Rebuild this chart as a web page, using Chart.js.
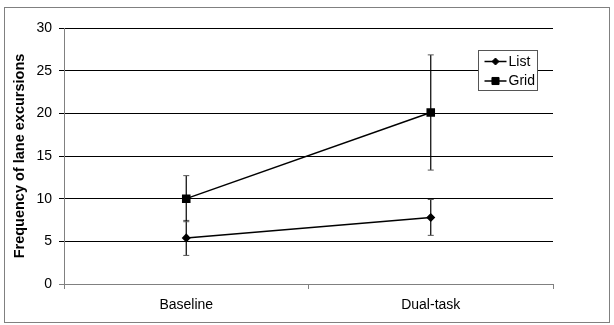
<!DOCTYPE html>
<html>
<head>
<meta charset="utf-8">
<script src="https://cdn.jsdelivr.net/npm/chart.js@4/dist/chart.umd.min.js"></script>
<style>
    html, body { margin: 0; padding: 0; background: #fff; }
    #wrap { position: relative; width: 614px; height: 325px; }
</style>
</head>
<body>
<div id="wrap"><canvas id="laneChart" width="614" height="325"></canvas></div>
<script>
const categories = ['Baseline', 'Dual-task'];
const listValues = [5.4, 7.8];
const listErrors = [2.05, 2.1];
const gridValues = [10.0, 20.1];
const gridErrors = [2.7, 6.75];
const yTickValues = [0, 5, 10, 15, 20, 25, 30];
const seriesNames = ['List', 'Grid'];

const FONT = 'Liberation Sans, Arial, sans-serif';
const AXIS_GREY = '#808080';

// error bars, drawn from the scales
const errorBars = {
    id: 'errorBars',
    beforeDatasetsDraw(chart) {
        const ctx = chart.ctx;
        const x = chart.scales.x, y = chart.scales.y;
        const errs = [listErrors, gridErrors];
        ctx.save();
        chart.data.datasets.forEach(function (ds, i) {
            ds.data.forEach(function (v, j) {
                const px = x.getPixelForValue(j);
                const top = y.getPixelForValue(v + errs[i][j]);
                const bot = y.getPixelForValue(v - errs[i][j]);
                ctx.strokeStyle = '#000';
                ctx.lineWidth = 1.2;
                ctx.beginPath();
                ctx.moveTo(px, top);
                ctx.lineTo(px, bot);
                ctx.stroke();
                ctx.strokeStyle = '#555';
                ctx.lineWidth = 1;
                ctx.beginPath();
                ctx.moveTo(px - 3, top); ctx.lineTo(px + 3, top);
                ctx.moveTo(px - 3, bot); ctx.lineTo(px + 3, bot);
                ctx.stroke();
            });
        });
        ctx.restore();
    }
};

// legend box, y title and outer frame
const extras = {
    id: 'extras',
    afterDraw(chart) {
        const ctx = chart.ctx;
        const area = chart.chartArea;
        ctx.save();

        // y axis title
        ctx.fillStyle = '#000';
        ctx.font = 'bold 14.5px ' + FONT;
        ctx.textAlign = 'center';
        ctx.textBaseline = 'middle';
        ctx.translate(20, (area.top + area.bottom) / 2);
        ctx.rotate(-Math.PI / 2);
        ctx.fillText('Frequency of lane excursions', 0, 0);
        ctx.setTransform(1, 0, 0, 1, 0, 0);

        // legend
        const lx = 478.5, ly = 50.5, lw = 59, lh = 40;
        ctx.fillStyle = '#fff';
        ctx.fillRect(lx, ly, lw, lh);
        ctx.strokeStyle = '#555';
        ctx.lineWidth = 1;
        ctx.strokeRect(lx, ly, lw, lh);
        chart.data.datasets.forEach(function (ds, i) {
            const cy = ly + 11 + i * 19.5;
            ctx.strokeStyle = '#000';
            ctx.fillStyle = '#000';
            ctx.lineWidth = 1.5;
            ctx.beginPath();
            ctx.moveTo(lx + 6, cy);
            ctx.lineTo(lx + 28, cy);
            ctx.stroke();
            ctx.lineWidth = 1;
            Chart.helpers.drawPoint(ctx, {
                pointStyle: ds.pointStyle,
                radius: ds.pointRadius,
                borderWidth: 1
            }, lx + 17, cy);
            ctx.font = '14px ' + FONT;
            ctx.textAlign = 'left';
            ctx.textBaseline = 'middle';
            ctx.fillText(seriesNames[i], lx + 30, cy + 0.5);
        });

        // outer frame
        ctx.strokeStyle = AXIS_GREY;
        ctx.lineWidth = 1;
        ctx.strokeRect(4.5, 7.5, 605, 315);
        ctx.restore();
    }
};

new Chart(document.getElementById('laneChart'), {
    type: 'line',
    data: {
        labels: categories,
        datasets: [{
            label: seriesNames[0],
            data: listValues,
            borderColor: '#000',
            backgroundColor: '#000',
            borderWidth: 1.5,
            pointStyle: 'rectRot',
            pointRadius: 3.5,
            pointBackgroundColor: '#000',
            pointBorderColor: '#000',
            tension: 0
        }, {
            label: seriesNames[1],
            data: gridValues,
            borderColor: '#000',
            backgroundColor: '#000',
            borderWidth: 1.5,
            pointStyle: 'rect',
            pointRadius: 5,
            pointBackgroundColor: '#000',
            pointBorderColor: '#000',
            tension: 0
        }]
    },
    options: {
        responsive: false,
        animation: false,
        events: [],
        layout: { padding: { top: 28, right: 61, bottom: 0, left: 0 } },
        plugins: {
            legend: { display: false },
            tooltip: { enabled: false }
        },
        scales: {
            x: {
                type: 'category',
                offset: true,
                afterFit: function (s) { s.height = 41; },
                grid: {
                    offset: true,
                    drawOnChartArea: false,
                    tickLength: 5,
                    color: AXIS_GREY
                },
                border: { color: AXIS_GREY },
                ticks: {
                    color: '#000',
                    padding: 8,
                    font: { family: FONT, size: 14 }
                }
            },
            y: {
                min: 0,
                max: 30,
                afterFit: function (s) { s.width = 64; },
                afterBuildTicks: function (s) {
                    s.ticks = yTickValues.map(function (v) { return { value: v }; });
                },
                grid: {
                    tickLength: 5,
                    color: function (c) { return c.tick && c.tick.value === 0 ? AXIS_GREY : '#000'; }
                },
                border: { color: AXIS_GREY },
                ticks: {
                    color: '#000',
                    padding: 7,
                    font: { family: FONT, size: 14 }
                }
            }
        }
    },
    plugins: [errorBars, extras]
});
</script>
</body>
</html>
